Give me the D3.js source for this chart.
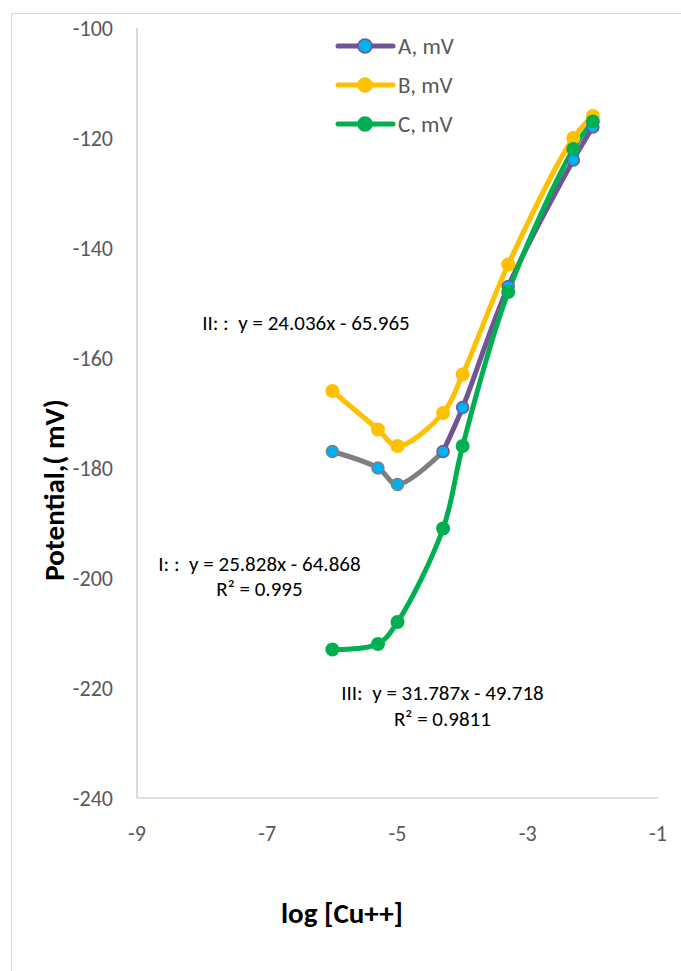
<!DOCTYPE html>
<html>
<head>
<meta charset="utf-8">
<script src="https://cdn.jsdelivr.net/npm/d3@7"></script>
<style>
  body { margin: 0; background: #fff; }
  svg text { font-family: Calibri, Carlito, Lato, sans-serif; white-space: pre; }
</style>
</head>
<body>
<div id="chart"></div>
<script>
// log [Cu++] values, shared by all three series
const logCu = [-6, -5.3, -5, -4.3, -4, -3.3, -2.3, -2];
const seriesA = [-177, -180, -183, -177, -169, -147, -124, -118];
const seriesB = [-166, -173, -176, -170, -163, -143, -120, -116];
const seriesC = [-213, -212, -208, -191, -176, -148, -122, -117];
const seriesNames = ['A, mV', 'B, mV', 'C, mV'];
const xTicks = [-9, -7, -5, -3, -1];
const yTicks = [-100, -120, -140, -160, -180, -200, -220, -240];
const fitLabels = [
  { lines: ['II: :  y = 24.036x - 65.965'], x: -8.0, y: -153.5, anchor: 'start' },
  { lines: ['I: :  y = 25.828x - 64.868', 'R\u00b2 = 0.995'], x: -7.12, y: -197.3, anchor: 'middle' },
  { lines: ['III:  y = 31.787x - 49.718', 'R\u00b2 = 0.9811'], x: -4.31, y: -220.9, anchor: 'middle' }
];

const width = 681, height = 971;
const margin = { top: 28, left: 137, right: 23, bottom: 173 };

const svg = d3.select('#chart').append('svg')
  .attr('width', width)
  .attr('height', height);

// chart frame
svg.append('rect')
  .attr('x', 11.5).attr('y', 13.5)
  .attr('width', width + 10).attr('height', height + 10)
  .attr('fill', 'none')
  .attr('stroke', '#d9d9d9');

const x = d3.scaleLinear().domain([-9, -1]).range([margin.left, width - margin.right]);
const y = d3.scaleLinear().domain([-240, -100]).range([height - margin.bottom, margin.top]);

// axes lines
svg.append('line')
  .attr('x1', x(-9)).attr('x2', x(-9))
  .attr('y1', y(-100)).attr('y2', y(-240))
  .attr('stroke', '#bfbfbf').attr('stroke-width', 1.2);
svg.append('line')
  .attr('x1', x(-9)).attr('x2', x(-1))
  .attr('y1', y(-240)).attr('y2', y(-240))
  .attr('stroke', '#bfbfbf').attr('stroke-width', 1.2);

svg.append('g')
  .selectAll('text')
  .data(yTicks)
  .join('text')
  .attr('x', 113)
  .attr('y', d => y(d))
  .attr('dy', '0.35em')
  .attr('text-anchor', 'end')
  .attr('font-size', 22)
  .attr('fill', '#595959')
  .text(d => d);

svg.append('g')
  .selectAll('text')
  .data(xTicks)
  .join('text')
  .attr('x', d => x(d))
  .attr('y', 833)
  .attr('dy', '0.35em')
  .attr('text-anchor', 'middle')
  .attr('font-size', 22)
  .attr('fill', '#595959')
  .text(d => d);

// axis titles
svg.append('text')
  .attr('transform', 'translate(54,490) rotate(-90)')
  .attr('dy', '0.35em')
  .attr('text-anchor', 'middle')
  .attr('font-size', 29)
  .attr('font-weight', 'bold')
  .text('Potential,( mV)');

svg.append('text')
  .attr('x', 342)
  .attr('y', 913)
  .attr('dy', '0.35em')
  .attr('text-anchor', 'middle')
  .attr('font-size', 29)
  .attr('font-weight', 'bold')
  .text('log [Cu++]');

const colors = { A: '#705496', Agray: '#7f7f7f', B: '#ffc000', C: '#00b050', marker: '#00b0f0' };
const line = d3.line()
  .x(d => x(d[0]))
  .y(d => y(d[1]))
  .curve(d3.curveCatmullRom.alpha(0.5));

const pts = vals => logCu.map((v, i) => [v, vals[i]]);
const lines = svg.append('g');
const marks = svg.append('g');

// series A: gray up to -4.3, purple from there on
const grayEnd = 3;
const aPts = pts(seriesA);
lines.append('path')
  .attr('d', line(aPts.slice(0, grayEnd + 1)))
  .attr('fill', 'none').attr('stroke', colors.Agray)
  .attr('stroke-width', 5).attr('stroke-linecap', 'round');
lines.append('path')
  .attr('d', line(aPts.slice(grayEnd)))
  .attr('fill', 'none').attr('stroke', colors.A)
  .attr('stroke-width', 5).attr('stroke-linecap', 'round');

[[seriesB, colors.B], [seriesC, colors.C]].forEach(([vals, c]) => {
  lines.append('path')
    .attr('d', line(pts(vals)))
    .attr('fill', 'none').attr('stroke', c)
    .attr('stroke-width', 5).attr('stroke-linecap', 'round');
});

marks.selectAll('circle.a')
  .data(aPts)
  .join('circle')
  .attr('cx', d => x(d[0]))
  .attr('cy', d => y(d[1]))
  .attr('r', 6)
  .attr('fill', colors.marker)
  .attr('stroke', (d, i) => i < grayEnd ? colors.Agray : colors.A)
  .attr('stroke-width', 1.5);

[[seriesB, colors.B], [seriesC, colors.C]].forEach(([vals, c]) => {
  marks.append('g')
    .selectAll('circle')
    .data(pts(vals))
    .join('circle')
    .attr('cx', d => x(d[0]))
    .attr('cy', d => y(d[1]))
    .attr('r', 7)
    .attr('fill', c);
});

// legend
const legendColors = [[colors.A, colors.marker], [colors.B, colors.B], [colors.C, colors.C]];
const legend = svg.append('g')
  .selectAll('g')
  .data(seriesNames)
  .join('g')
  .attr('transform', (d, i) => `translate(338,${46 + i * 39})`);
legend.append('line')
  .attr('x1', 0).attr('x2', 55)
  .attr('stroke', (d, i) => legendColors[i][0])
  .attr('stroke-width', 5).attr('stroke-linecap', 'round');
legend.append('circle')
  .attr('cx', 27).attr('r', 7)
  .attr('fill', (d, i) => legendColors[i][1])
  .attr('stroke', (d, i) => legendColors[i][0])
  .attr('stroke-width', 1.5);
legend.append('text')
  .attr('x', 60)
  .attr('dy', '0.35em')
  .attr('font-size', 23)
  .attr('fill', '#595959')
  .text(d => d);

// trendline labels
const fits = svg.append('g')
  .selectAll('text')
  .data(fitLabels)
  .join('text')
  .attr('x', d => x(d.x))
  .attr('y', d => y(d.y))
  .attr('text-anchor', d => d.anchor)
  .attr('font-size', 21)
  .attr('fill', '#000');
fits.selectAll('tspan')
  .data(d => d.lines.map(t => ({ t, d })))
  .join('tspan')
  .attr('x', o => x(o.d.x))
  .attr('dy', (o, i) => i === 0 ? '0.35em' : '1.2em')
  .text(o => o.t);
</script>
</body>
</html>
